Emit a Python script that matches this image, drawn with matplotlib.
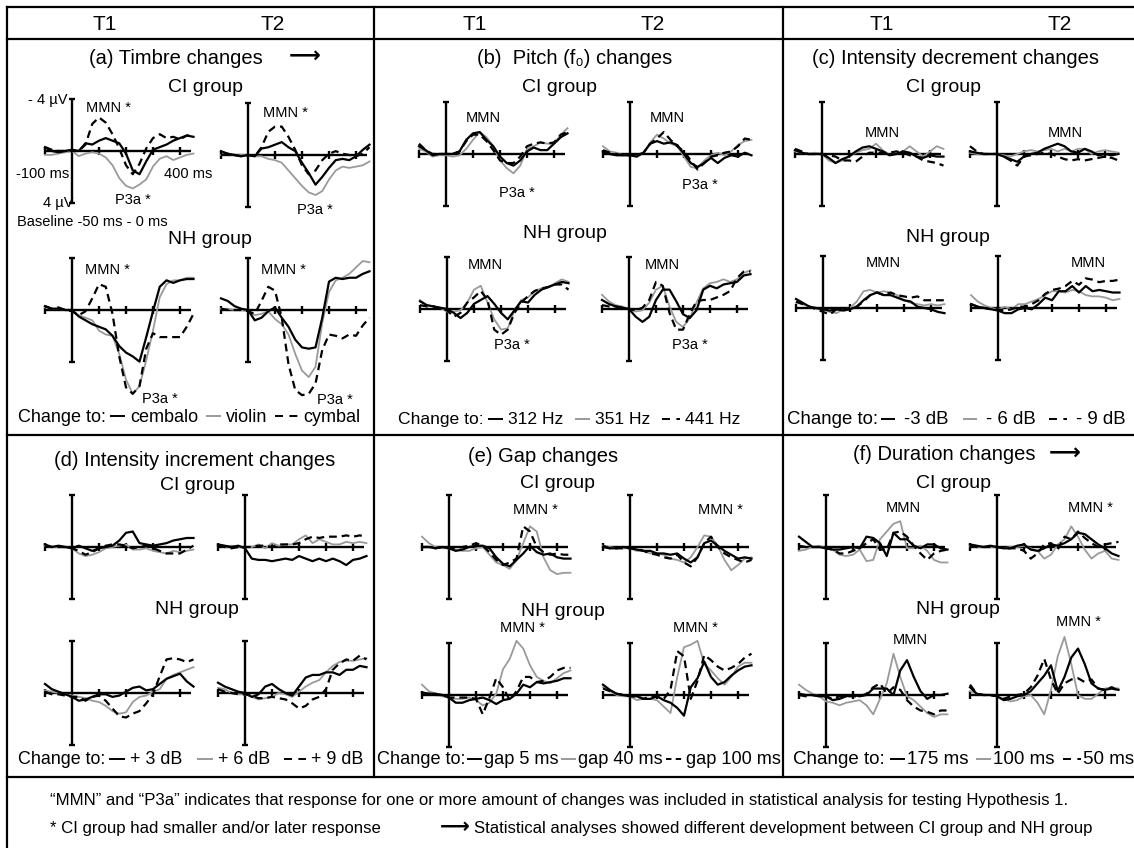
import matplotlib
matplotlib.use('Agg')
import matplotlib.pyplot as plt
from matplotlib.lines import Line2D
from matplotlib import font_manager

W, H = 1134, 848

# time base of every waveform (ms)
TIME_MS = [-100, -75, -50, -25, 0, 25, 50, 75, 100, 125, 150, 175, 200,
           225, 250, 275, 300, 325, 350, 375, 400, 425, 450]

# each mini plot: (solid, gray, dashed) in microvolts, negative = up
TIMBRE_CI_T1 = (
    [-0.3, 0.0, 0.1, 0.0, -0.1, 0.0, -0.6, -0.5, -0.8, -1.0, -0.8, -0.6, 0.2, 1.5, 1.8, 0.8, -0.1, -0.3, -0.5, -0.8, -1.0, -1.2, -1.1],
    [0.3, 0.3, 0.2, 0.1, 0.0, 0.4, 0.2, 0.1, 0.2, 0.5, 1.1, 2.1, 2.7, 2.9, 2.6, 2.2, 1.2, 0.6, 0.4, 0.7, 0.5, 0.3, 0.2],
    [-0.3, -0.1, 0.0, 0.0, 0.0, 0.0, -0.5, -2.1, -2.6, -2.2, -1.3, -0.2, 1.1, 1.8, 1.0, -0.2, -1.0, -1.3, -1.0, -1.1, -0.9, -1.2, -1.2])
TIMBRE_CI_T2 = (
    [-0.3, -0.1, 0.0, 0.1, 0.0, 0.1, -0.5, -0.6, -0.8, -1.0, -0.6, -0.3, 0.6, 1.4, 2.3, 1.7, 1.0, 0.4, 0.3, 0.4, 0.1, -0.4, -0.8],
    [0.0, -0.1, 0.0, 0.0, 0.0, 0.1, 0.1, 0.3, 0.4, 0.6, 1.2, 1.8, 2.4, 2.9, 3.1, 2.8, 1.9, 1.2, 0.9, 1.0, 0.9, 0.8, 0.5],
    [0.0, -0.1, 0.0, 0.1, 0.0, 0.1, -0.6, -1.8, -2.2, -2.2, -1.4, -0.4, 0.8, 1.5, 1.2, 0.4, -0.1, -0.3, -0.1, 0.0, 0.1, -0.1, -0.6])
TIMBRE_NH_T1 = (
    [-0.3, -0.1, -0.1, 0.0, 0.0, 0.5, 0.8, 1.1, 1.3, 1.5, 2.0, 2.8, 3.3, 3.6, 4.0, 2.1, 0.1, -1.8, -2.3, -2.1, -2.3, -2.4, -2.4],
    [-0.2, -0.1, -0.1, 0.0, 0.1, 0.4, 0.6, 0.8, 1.6, 1.9, 2.0, 3.4, 5.4, 6.5, 5.9, 3.9, 1.6, -1.0, -2.0, -2.3, -2.3, -2.5, -2.5],
    [-0.3, -0.1, -0.2, 0.0, 0.1, 0.4, 0.1, -0.9, -2.0, -1.8, 0.3, 3.6, 6.0, 6.5, 5.9, 3.0, 1.8, 2.1, 2.1, 2.1, 2.1, 1.3, 0.3])
TIMBRE_NH_T2 = (
    [-0.9, -0.7, -0.3, -0.1, 0.0, 0.8, 0.6, 0.1, -0.2, 0.6, 1.3, 2.3, 2.9, 3.0, 2.9, 0.6, -2.2, -2.5, -2.4, -2.5, -2.5, -2.8, -3.0],
    [-0.1, -0.1, 0.0, 0.0, 0.1, 0.4, 0.3, 0.1, 0.7, 1.1, 1.9, 3.4, 4.7, 5.2, 4.4, 1.0, -1.4, -2.3, -2.5, -2.8, -3.3, -3.8, -3.7],
    [-0.1, 0.0, 0.0, 0.0, 0.1, 0.3, -0.7, -1.8, -1.5, 0.6, 4.2, 6.2, 6.6, 6.5, 5.7, 3.1, 1.9, 2.0, 2.2, 1.9, 2.0, 1.2, 0.6])

PITCH_CI_T1 = (
    [-0.6, -0.3, 0.1, 0.0, 0.0, 0.0, -0.2, -1.1, -1.6, -1.7, -1.1, -0.6, 0.2, 0.7, 0.9, 0.5, -0.2, -0.5, -0.3, -0.3, -0.8, -1.3, -1.6],
    [-0.4, -0.2, 0.2, 0.1, 0.1, 0.2, 0.1, -0.4, -1.1, -1.7, -1.3, -0.6, 0.5, 1.1, 1.5, 0.9, -0.4, -0.6, -0.9, -0.8, -0.8, -1.5, -2.0],
    [-0.8, -0.3, 0.0, 0.0, 0.0, 0.0, -0.2, -1.0, -1.5, -1.5, -1.0, -0.3, 0.5, 0.7, 0.7, 0.2, -0.6, -0.8, -0.9, -0.8, -0.9, -1.5, -1.7])
PITCH_CI_T2 = (
    [-0.2, 0.0, 0.1, 0.1, 0.1, 0.2, -0.1, -0.8, -1.0, -0.8, -0.9, -0.7, 0.0, 0.7, 1.0, 0.7, 0.3, 0.7, 0.3, 0.1, 0.2, -0.1, 0.1],
    [-0.6, -0.2, -0.1, 0.1, 0.1, 0.2, -0.1, -0.9, -1.5, -1.2, -0.8, -0.6, 0.2, 1.0, 1.1, 0.5, 0.1, -0.1, 0.1, -0.2, -0.7, -1.0, -1.1],
    [-0.3, -0.1, 0.0, 0.1, 0.1, 0.1, -0.1, -0.8, -1.2, -1.7, -1.1, -0.6, -0.2, 0.5, 1.2, 0.7, 0.2, 0.1, -0.1, -0.2, -0.6, -1.2, -1.1])
PITCH_NH_T1 = (
    [-0.6, -0.3, -0.2, -0.1, 0.0, 0.3, 0.7, 0.3, -0.4, -0.7, -1.0, -0.4, 0.3, 0.8, 0.1, -0.6, -0.5, -1.1, -1.5, -1.7, -1.9, -2.1, -2.0],
    [-0.7, -0.3, -0.2, -0.1, 0.2, 0.2, 0.1, -0.5, -1.5, -1.8, -0.5, 0.8, 1.6, 1.5, 0.1, -0.7, -0.9, -1.4, -1.6, -1.7, -2.0, -2.3, -2.1],
    [-0.3, -0.2, -0.2, 0.0, 0.1, 0.6, 0.3, -0.5, -0.9, -1.4, -0.7, 1.6, 2.0, 1.6, 0.3, -0.5, -1.0, -1.4, -1.6, -1.7, -1.9, -1.9, -1.5])
PITCH_NH_T2 = (
    [-0.7, -0.4, -0.2, -0.1, 0.0, 0.6, 1.0, 0.6, -0.7, -1.5, -1.5, -0.6, 0.4, 0.7, 0.1, -1.5, -1.8, -1.6, -1.9, -2.0, -2.1, -2.6, -2.7],
    [-1.1, -0.6, -0.3, -0.2, 0.0, 0.2, 0.1, -0.5, -1.5, -1.8, -0.2, 1.0, 1.4, 0.7, -0.5, -1.6, -2.0, -2.1, -2.3, -2.1, -2.3, -2.8, -3.0],
    [-0.3, -0.2, -0.2, -0.1, 0.0, 0.1, -0.1, -0.7, -2.1, -1.8, 0.3, 1.6, 1.6, 0.4, -0.6, -0.7, -0.7, -0.9, -1.1, -1.4, -2.4, -2.9, -2.9])

DECR_CI_T1 = (
    [-0.3, -0.1, 0.0, 0.0, 0.0, 0.3, 0.7, 0.4, 0.2, -0.2, -0.5, -0.6, -0.4, -0.2, 0.1, 0.0, -0.2, -0.1, 0.2, 0.3, 0.1, 0.2, 0.2],
    [-0.2, -0.1, 0.0, -0.1, 0.0, 0.5, 0.7, 0.5, 0.2, -0.1, -0.3, -0.4, -0.8, -0.3, 0.1, 0.0, -0.2, -0.6, -0.2, 0.2, -0.2, -0.6, -0.4],
    [-0.4, -0.2, 0.0, 0.0, 0.0, 0.1, 0.2, 0.5, 0.5, 0.6, 0.2, -0.1, -0.1, -0.1, -0.1, -0.2, -0.1, 0.1, 0.2, 0.5, 0.6, 0.7, 0.9])
DECR_CI_T2 = (
    [-0.2, -0.1, 0.0, 0.0, 0.0, 0.2, 0.4, 0.6, 0.2, 0.0, -0.1, -0.4, -0.6, -0.8, -0.6, -0.2, -0.1, -0.4, -0.2, 0.1, 0.0, 0.1, 0.0],
    [-0.1, 0.0, 0.0, 0.0, 0.0, 0.1, 0.2, 0.0, -0.2, -0.3, -0.2, -0.3, -0.4, -0.2, -0.4, -0.2, -0.4, -0.4, 0.0, -0.2, -0.3, -0.2, -0.1],
    [-0.6, -0.2, 0.0, 0.0, 0.0, 0.2, 0.5, 0.9, 0.2, 0.1, 0.0, -0.1, 0.0, 0.2, 0.4, 0.5, 0.4, 0.5, 0.4, 0.3, 0.2, 0.3, 0.5])
DECR_NH_T1 = (
    [-0.7, -0.4, -0.1, 0.0, 0.1, 0.2, 0.1, 0.2, 0.1, -0.1, -0.6, -1.0, -1.2, -1.0, -1.0, -0.8, -0.6, -0.5, -0.1, 0.0, 0.1, 0.3, 0.4],
    [-0.4, -0.3, -0.1, 0.1, 0.1, 0.3, 0.4, 0.1, 0.0, -0.5, -1.3, -1.4, -1.2, -1.3, -1.2, -1.0, -0.6, -0.4, -0.3, -0.2, -0.3, -0.2, -0.3],
    [-0.5, -0.3, -0.1, 0.1, 0.3, 0.5, 0.1, 0.1, 0.0, -0.1, -0.5, -1.0, -1.2, -1.0, -1.2, -1.0, -0.9, -0.8, -0.9, -0.6, -0.6, -0.6, -0.6])
DECR_NH_T2 = (
    [-0.3, -0.1, 0.0, 0.1, 0.2, 0.4, 0.4, 0.1, 0.0, 0.1, -0.3, -0.8, -0.6, -1.3, -1.3, -1.7, -1.2, -1.7, -1.3, -1.4, -1.3, -1.2, -1.2],
    [-1.0, -0.5, -0.2, 0.0, 0.1, -0.1, 0.1, -0.3, -0.3, -0.5, -0.7, -1.0, -1.3, -1.3, -1.2, -1.4, -1.3, -1.0, -0.9, -0.9, -0.8, -0.6, -0.7],
    [-0.3, -0.1, 0.0, 0.1, 0.1, 0.2, 0.1, -0.1, -0.1, -0.3, -0.6, -1.1, -1.4, -1.5, -1.7, -2.1, -1.8, -2.3, -2.2, -2.0, -2.1, -2.1, -2.2])

INCR_CI_T1 = (
    [-0.2, 0.0, -0.1, 0.0, 0.1, -0.1, 0.1, 0.3, 0.1, 0.0, -0.1, -0.5, -1.1, -1.2, -0.3, -0.2, -0.1, -0.2, -0.3, -0.5, -0.6, -0.7, -0.7],
    [-0.1, 0.0, 0.0, 0.0, 0.1, 0.5, 0.7, 0.6, 0.4, 0.1, 0.0, -0.1, -0.2, 0.2, 0.2, 0.1, 0.3, 0.4, 0.5, 0.3, 0.4, 0.3, 0.2],
    [-0.1, 0.0, 0.0, 0.0, 0.1, 0.3, 0.6, 0.4, 0.1, -0.1, -0.2, -0.2, -0.1, 0.1, 0.0, -0.1, 0.1, 0.3, 0.5, 0.5, 0.5, 0.2, -0.1])
INCR_CI_T2 = (
    [-0.2, -0.1, 0.0, -0.1, 0.1, 0.9, 1.0, 1.0, 1.1, 1.0, 0.9, 1.0, 0.7, 0.9, 1.1, 0.9, 1.1, 0.9, 1.1, 1.4, 1.0, 0.9, 0.7],
    [-0.2, 0.0, -0.1, 0.0, 0.0, 0.0, -0.2, 0.1, -0.3, -0.1, -0.2, -0.2, -0.6, -0.9, -0.3, -0.6, -0.4, -0.2, -0.2, -0.4, -0.3, -0.4, -0.3],
    [-0.1, 0.0, 0.1, 0.0, 0.0, 0.0, -0.1, -0.1, 0.0, -0.2, -0.2, -0.2, -0.3, -0.6, -0.8, -0.7, -0.8, -0.8, -0.8, -0.9, -0.8, -0.9, -0.8])
INCR_NH_T1 = (
    [-0.7, -0.3, -0.1, 0.1, 0.3, 0.6, 0.5, 0.3, 0.1, 0.1, 0.3, 0.2, -0.1, -0.4, -0.5, -0.2, -0.3, -0.7, -1.1, -1.3, -1.5, -0.9, -0.5],
    [-0.2, -0.1, 0.0, 0.1, 0.2, 0.3, 0.4, 0.6, 0.7, 1.0, 1.4, 1.6, 1.5, 0.7, 0.3, 0.2, -0.1, -0.3, -1.1, -1.4, -1.6, -1.8, -2.0],
    [-0.1, 0.1, 0.1, 0.2, 0.3, 0.3, 0.6, 0.3, 0.2, 0.6, 1.2, 1.8, 1.9, 1.6, 1.4, 0.8, 0.1, -1.3, -2.6, -2.7, -2.6, -2.4, -2.6])
INCR_NH_T2 = (
    [-0.8, -0.5, -0.3, -0.1, 0.0, 0.3, 0.1, -0.5, -0.7, -0.3, 0.0, 0.2, -0.5, -1.2, -1.4, -1.4, -1.6, -1.6, -1.4, -1.8, -1.8, -2.1, -2.0],
    [-0.4, -0.3, 0.0, 0.1, 0.1, 0.3, 0.5, 0.4, 0.3, 0.0, 0.1, 0.3, -0.1, -0.5, -0.8, -1.0, -1.6, -2.1, -2.4, -2.5, -2.5, -2.6, -2.7],
    [-0.3, -0.1, 0.0, 0.1, 0.1, 0.2, 0.4, 0.4, 0.3, 0.4, 0.5, 0.8, 1.2, 1.0, 0.5, 0.3, -0.3, -1.8, -2.3, -2.6, -2.5, -2.9, -2.6])

GAP_CI_T1 = (
    [0.0, 0.0, 0.1, 0.0, 0.1, 0.3, 0.2, 0.0, -0.1, -0.1, 0.1, 0.8, 1.3, 1.5, 1.0, 0.5, -0.1, 0.4, 0.6, 0.5, 0.8, 0.9, 0.9],
    [-0.8, -0.3, 0.0, 0.1, 0.1, 0.2, 0.3, 0.3, 0.1, 0.0, 0.6, 1.2, 1.4, 1.7, 1.0, -0.3, -1.6, -1.2, 0.8, 1.8, 2.1, 2.0, 2.0],
    [0.0, 0.0, 0.1, 0.0, 0.1, 0.1, 0.0, -0.1, -0.3, -0.1, 0.4, 1.0, 1.4, 1.2, 0.9, -1.6, -1.2, 0.0, 0.4, 0.6, 0.5, 0.6, 0.6])
GAP_CI_T2 = (
    [0.0, 0.1, 0.1, 0.0, 0.1, 0.2, 0.3, 0.3, 0.5, 0.5, 0.6, 0.5, 0.9, 1.2, 0.8, -0.3, -0.5, -0.1, 0.3, 0.6, 0.9, 0.8, 0.9],
    [-0.1, 0.0, 0.1, 0.1, 0.1, 0.3, 0.3, 0.5, 0.5, 0.6, 0.9, 1.0, 1.2, 0.8, 0.0, -0.9, -0.8, -0.1, 1.0, 1.8, 1.4, 0.9, 0.8],
    [-0.1, 0.1, 0.1, 0.1, 0.1, 0.1, 0.3, 0.5, 0.6, 0.8, 0.9, 0.6, 1.2, 1.5, 0.8, -0.3, -0.8, 0.0, 0.5, 0.8, 1.0, 1.2, 1.0])
GAP_NH_T1 = (
    [-0.2, -0.1, -0.1, 0.0, 0.2, 0.6, 0.6, 0.4, 0.3, 0.2, 0.4, 0.7, 0.4, 0.3, -0.1, -0.8, -0.6, -1.0, -0.9, -1.0, -1.1, -1.3, -1.3],
    [-0.8, -0.3, -0.1, 0.1, 0.2, 0.3, 0.3, 0.2, 0.4, 0.8, 0.6, -0.1, -2.0, -2.8, -4.2, -3.6, -2.3, -1.4, -1.1, -0.9, -1.3, -1.7, -1.9],
    [-0.1, -0.1, 0.0, 0.0, 0.2, 0.2, 0.2, 0.2, 0.3, 1.5, 0.2, -1.3, -0.6, 0.4, -0.3, -1.4, -1.4, -1.0, -1.1, -1.4, -1.9, -2.1, -2.1])
GAP_NH_T2 = (
    [-0.8, -0.4, -0.1, 0.0, 0.1, 0.1, 0.3, 0.3, 0.1, 0.4, 0.6, 1.0, 1.6, -0.6, -1.3, -2.6, -1.4, -0.8, -1.0, -1.5, -1.9, -2.2, -2.3],
    [-0.6, -0.3, 0.0, 0.1, 0.1, 0.4, 0.3, 0.3, 0.4, 0.9, 1.4, -1.4, -3.7, -3.9, -4.2, -2.4, -1.9, -1.3, -0.8, -1.4, -2.2, -2.5, -2.5],
    [-0.5, -0.3, -0.1, 0.0, 0.1, 0.1, 0.3, 0.1, 0.1, 0.3, -0.4, -3.4, -3.0, 0.3, -1.1, -3.1, -2.7, -2.2, -1.9, -2.1, -2.4, -2.9, -3.2])

DUR_CI_T1 = (
    [-0.8, -0.4, 0.0, 0.0, 0.1, 0.2, 0.2, 0.1, 0.0, 0.1, -0.8, -0.7, -0.3, 0.7, -1.1, -0.6, -0.6, -0.1, 0.1, -0.2, -0.2, 0.1, 0.2],
    [0.3, 0.2, 0.0, -0.1, 0.1, 0.2, 0.6, 0.7, 0.6, 0.2, 1.1, 1.0, -0.6, -1.2, -1.8, -2.0, 0.1, 0.1, -0.1, 0.3, 1.0, 1.2, 1.2],
    [-0.1, 0.0, 0.0, 0.0, 0.1, 0.2, 0.5, 0.5, 0.3, 0.1, -0.3, -0.6, 0.2, 0.2, -1.1, -1.2, -0.8, -0.1, 0.5, 1.0, 0.5, 0.3, 0.2])
DUR_CI_T2 = (
    [-0.2, -0.1, 0.0, -0.1, 0.0, 0.1, 0.1, -0.1, -0.2, 0.2, 0.3, 0.1, -0.2, -0.1, -0.3, -0.6, -1.1, -1.0, -0.6, -0.2, 0.1, 0.5, 0.7],
    [-0.1, 0.0, 0.0, 0.0, 0.0, 0.1, 0.0, 0.0, -0.1, 0.1, 0.3, 0.9, 0.6, -0.2, -0.6, -1.6, -0.8, 0.2, 0.9, 0.5, 0.3, 0.9, 1.0],
    [-0.1, 0.0, 0.0, 0.0, 0.0, 0.1, 0.1, 0.1, 0.3, 0.9, 0.5, -0.2, -0.3, 0.2, -0.8, -0.6, -1.2, -0.7, -0.3, 0.0, -0.2, -0.3, -0.4])
DUR_NH_T1 = (
    [-0.1, 0.0, 0.0, 0.1, 0.1, 0.4, 0.3, 0.1, 0.0, 0.1, 0.0, -0.5, -0.5, -0.5, 0.0, -1.9, -2.7, -1.4, -0.3, 0.3, 0.0, 0.0, -0.1],
    [-0.8, -0.4, -0.1, 0.1, 0.5, 0.6, 0.8, 0.6, 0.5, 0.4, 0.8, 1.5, 0.3, -0.9, -3.2, -1.4, 0.1, 0.4, 0.9, 1.4, 1.7, 1.5, 1.5],
    [0.0, 0.1, 0.0, 0.1, 0.1, 0.3, 0.1, 0.1, 0.1, 0.1, -0.1, -0.6, -0.9, -0.1, -0.6, -0.4, 0.4, 0.9, 1.2, 1.3, 1.5, 1.2, 1.2])
DUR_NH_T2 = (
    [-0.6, -0.1, 0.0, 0.0, 0.1, 0.4, 0.3, 0.1, 0.0, -0.3, -0.9, -1.5, -2.3, -0.3, -1.4, -2.9, -3.6, -2.4, -0.9, -0.5, -0.4, -0.5, -0.4],
    [-0.3, -0.1, 0.0, 0.0, 0.1, 0.3, 0.5, 0.4, 0.1, 0.0, 0.6, 1.5, -0.4, -3.0, -4.5, -2.4, 0.0, 0.3, 0.3, -0.1, -0.5, -0.6, -0.5],
    [-0.8, -0.1, 0.0, 0.0, 0.1, 0.3, 0.1, 0.0, -0.1, -0.6, -1.5, -2.8, -1.2, -0.1, -0.9, -1.2, -1.3, -1.0, -1.2, -0.5, -0.4, -0.6, -0.3])

TIMBRE_LABELS = ['cembalo', 'violin', 'cymbal']
PITCH_LABELS = ['312 Hz', '351 Hz', '441 Hz']
DECR_LABELS = ['-3 dB', '- 6 dB', '- 9 dB']
INCR_LABELS = ['+ 3 dB', '+ 6 dB', '+ 9 dB']
GAP_LABELS = ['gap 5 ms', 'gap 40 ms', 'gap 100 ms']
DUR_LABELS = ['175 ms', '100 ms', '50 ms']

FOOT_1 = ('\u201cMMN\u201d and \u201cP3a\u201d indicates that response for one or more amount of '
          'changes was included in statistical analysis for testing Hypothesis 1.')
FOOT_2 = '* CI group had smaller and/or later response'
FOOT_3 = 'Statistical analyses showed different development between CI group and NH group'

# ---------------------------------------------------------------- layout
plt.rcParams['font.family'] = ['Liberation Sans', 'DejaVu Sans']
names = {f.name for f in font_manager.fontManager.ttflist}
NARROW = 'Liberation Sans Narrow' if 'Liberation Sans Narrow' in names else 'Liberation Sans'

GRAY = '#9a9a9a'
SX, SY = 0.27, 12.9          # px per ms, px per uV
XMIN, XMAX = -120, 470
YTOP, YBOT = -6.5, 7.5

fig = plt.figure(figsize=(W / 100, H / 100), dpi=100)
renderer = fig.canvas.get_renderer()


def fx(x):
    return x / W


def fy(y):
    return 1 - y / H


def seg(x0, y0, x1, y1, **kw):
    kw.setdefault('color', 'black')
    kw.setdefault('lw', 1.6)
    fig.add_artist(Line2D([fx(x0), fx(x1)], [fy(y0), fy(y1)], **kw))


def txt(x, y, s, size, ha='center', **kw):
    return fig.text(fx(x), fy(y), s, ha=ha, va='center', fontsize=size, **kw)


def width_of(t):
    return t.get_window_extent(renderer=renderer).width


def fitted(x0, x1, y, s, size=15, **kw):
    t = txt(x0, y, s, size, ha='left', **kw)
    t.set_fontsize(size * (x1 - x0) / width_of(t))
    return t


def mini(x0, y0, series):
    left = x0 + XMIN * SX
    top = y0 + YTOP * SY
    w = (XMAX - XMIN) * SX
    h = (YBOT - YTOP) * SY
    ax = fig.add_axes([fx(left), fy(top + h), w / W, h / H])
    ax.set_xlim(XMIN, XMAX)
    ax.set_ylim(YBOT, YTOP)
    ax.axis('off')
    ax.patch.set_alpha(0)
    k = dict(color='black', lw=1.7, solid_capstyle='butt', clip_on=False)
    ax.plot([-100, 440], [0, 0], **k)
    ax.plot([0, 0], [-4, 4], **k)
    for v in (-4, 4):
        ax.plot([-11, 11], [v, v], **k)
    for t in (-100, 100, 200, 300, 400):
        ax.plot([t, t], [-0.3, 0.3], **k)
    solid, gray, dashed = series
    ax.plot(TIME_MS, gray, color=GRAY, lw=1.3, clip_on=False)
    ax.plot(TIME_MS, solid, color='black', lw=1.6, clip_on=False)
    ax.plot(TIME_MS, dashed, color='black', lw=1.6, dashes=(3.5, 2.2), clip_on=False)


def legend(y, x0, x1, labels, gaps):
    g1, g2, g3, seglen, dashlen, dash = gaps
    size = 12
    texts = [txt(x0, y, 'Change to:', size, ha='left')]
    texts += [txt(x0, y, lab, size, ha='left') for lab in labels]
    fixed = g1 + 2 * seglen + dashlen + 3 * g2 + 2 * g3
    size = size * (x1 - x0 - fixed) / sum(width_of(t) for t in texts)
    for t in texts:
        t.set_fontsize(size)
    styles = [(seglen, dict(color='black')), (seglen, dict(color=GRAY)),
              (dashlen, dict(color='black', dashes=dash))]
    x = x0 + width_of(texts[0]) + g1
    for t, (ln, st) in zip(texts[1:], styles):
        seg(x, y - 1, x + ln, y - 1, lw=1.4, solid_capstyle='butt', dash_capstyle='butt', **st)
        x += ln + g2
        t.set_x(fx(x))
        x += width_of(t) + g3


# frame
seg(7, 7, 1134, 7)
seg(7, 39, 1134, 39)
seg(7, 435, 1134, 435)
seg(7, 777, 1134, 777)
seg(7, 7, 7, 848)
seg(374, 7, 374, 777)
seg(783, 7, 783, 777)

for x, s in [(105, 'T1'), (273, 'T2'), (475, 'T1'), (653, 'T2'), (882, 'T1'), (1060, 'T2')]:
    txt(x, 24, s, 15)

ARROW = '\u27f6'
TWO_DASH = (4.1, 3.3)
panels = [
    dict(title='(a) Timbre changes', tx=176, ty=58, arrow=305,
         groups=[(205, 87, 'CI group'), (210, 240, 'NH group')],
         plots=[(72, 151, TIMBRE_CI_T1), (248, 155, TIMBRE_CI_T2),
                (72, 310, TIMBRE_NH_T1), (248, 310, TIMBRE_NH_T2)],
         legend=(417, 18, 362, TIMBRE_LABELS, (4, 5, 8, 15, 23, TWO_DASH)),
         notes=[(48, 100, '- 4 \u00b5V'), (108, 108, 'MMN *'), (43, 174, '-100 ms'),
                (188, 174, '400 ms'), (58, 203, '4 \u00b5V'), (133, 200, 'P3a *'),
                (92, 222, 'Baseline -50 ms - 0 ms'), (285, 113, 'MMN *'), (315, 210, 'P3a *'),
                (107, 270, 'MMN *'), (283, 270, 'MMN *'), (160, 399, 'P3a *'), (335, 400, 'P3a *')]),
    dict(title='(b)  Pitch (f\u2080) changes', tx=575, ty=58, arrow=None,
         groups=[(560, 87, 'CI group'), (565, 233, 'NH group')],
         plots=[(446, 154, PITCH_CI_T1), (630, 154, PITCH_CI_T2),
                (447, 309, PITCH_NH_T1), (629, 309, PITCH_NH_T2)],
         legend=(420, 398, 740, PITCH_LABELS, (4, 5, 12, 15, 18, TWO_DASH)),
         notes=[(483, 118, 'MMN'), (517, 193, 'P3a *'), (667, 118, 'MMN'), (700, 185, 'P3a *'),
                (485, 265, 'MMN'), (512, 345, 'P3a *'), (662, 265, 'MMN'), (690, 345, 'P3a *')]),
    dict(title='(c) Intensity decrement changes', tx=956, ty=58, arrow=None,
         groups=[(943, 87, 'CI group'), (948, 237, 'NH group')],
         plots=[(822, 154, DECR_CI_T1), (997, 154, DECR_CI_T2),
                (823, 308, DECR_NH_T1), (998, 308, DECR_NH_T2)],
         legend=(420, 787, 1127, DECR_LABELS, (3, 9, 14, 14, 18, TWO_DASH)),
         notes=[(882, 133, 'MMN'), (1065, 133, 'MMN'), (883, 263, 'MMN'), (1088, 263, 'MMN')]),
    dict(title='(d) Intensity increment changes', tx=195, ty=460, arrow=None,
         groups=[(197, 485, 'CI group'), (197, 610, 'NH group')],
         plots=[(72, 547, INCR_CI_T1), (245, 547, INCR_CI_T2),
                (72, 693, INCR_NH_T1), (245, 693, INCR_NH_T2)],
         legend=(760, 18, 363, INCR_LABELS, (4, 5, 14, 16, 22, TWO_DASH)),
         notes=[]),
    dict(title='(e) Gap changes', tx=543, ty=457, arrow=None,
         groups=[(558, 483, 'CI group'), (563, 612, 'NH group')],
         plots=[(449, 547, GAP_CI_T1), (630, 547, GAP_CI_T2),
                (449, 695, GAP_NH_T1), (630, 695, GAP_NH_T2)],
         legend=(760, 377, 781, GAP_LABELS, (1, 2, 3, 15, 18, (2.8, 2.2))),
         notes=[(535, 510, 'MMN *'), (720, 510, 'MMN *'), (522, 628, 'MMN *'), (695, 628, 'MMN *')]),
    dict(title='(f) Duration changes', tx=944, ty=455, arrow=1065,
         groups=[(953, 483, 'CI group'), (958, 610, 'NH group')],
         plots=[(826, 547, DUR_CI_T1), (997, 547, DUR_CI_T2),
                (826, 695, DUR_NH_T1), (997, 695, DUR_NH_T2)],
         legend=(760, 793, 1133, DUR_LABELS, (5, 2, 8, 15, 18, TWO_DASH)),
         notes=[(903, 508, 'MMN'), (1090, 508, 'MMN *'), (910, 640, 'MMN'), (1078, 622, 'MMN *')]),
]

for p in panels:
    txt(p['tx'], p['ty'], p['title'], 14.5)
    if p['arrow']:
        txt(p['arrow'], p['ty'] - 2, ARROW, 16, family='DejaVu Sans', fontweight='bold')
    for gx, gy, g in p['groups']:
        txt(gx, gy, g, 14)
    for x0, y0, series in p['plots']:
        mini(x0, y0, series)
    for nx, ny, s in p['notes']:
        txt(nx, ny, s, 10.5)
    legend(*p['legend'])

# footnote: one size for all pieces, fitted to the first line
foot = [NARROW, 'DejaVu Sans']
f1 = fitted(50, 1068, 800, FOOT_1, 12, family=foot)
fsize = f1.get_fontsize()
txt(50, 828, FOOT_2, fsize, ha='left', family=foot)
txt(455, 827, ARROW, 15, family='DejaVu Sans', fontweight='bold')
txt(474, 828, FOOT_3, fsize, ha='left', family=foot)

fig.savefig('out.png', dpi=100)
